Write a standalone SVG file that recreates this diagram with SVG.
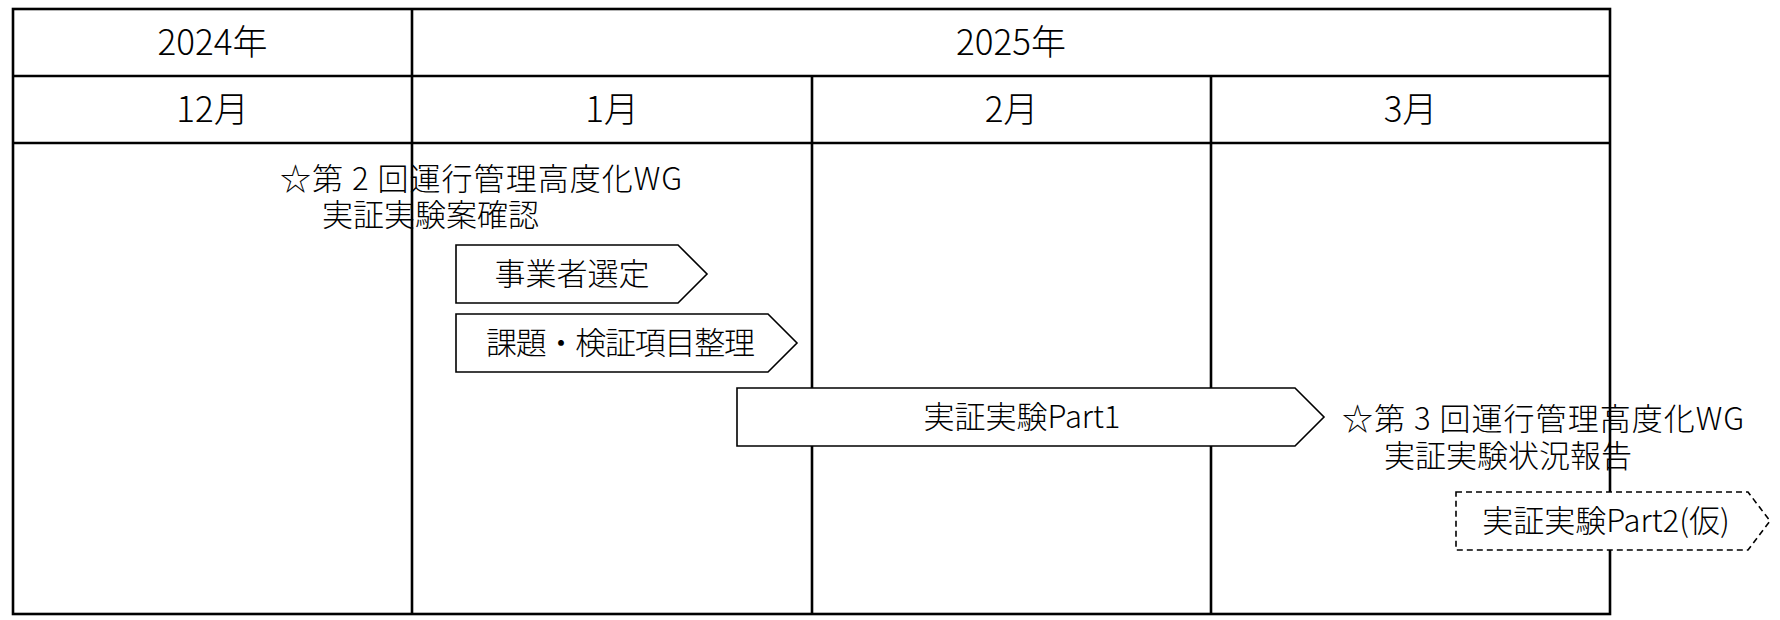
<svg xmlns="http://www.w3.org/2000/svg" width="1780" height="620" viewBox="0 0 1780 620">
<style>
.t{font-family:"Noto Sans CJK JP","Noto Sans",sans-serif;fill:#000;font-weight:300}
.h{font-size:35px;text-anchor:middle}
.b{font-size:31px}
.c{text-anchor:middle}
.grid{stroke:#000;stroke-width:2.6;fill:none}
.box{fill:#fff;stroke:#000;stroke-width:1.6}
.dash{fill:#fff;stroke:#000;stroke-width:1.6;stroke-dasharray:6 4}
</style>
<rect width="1780" height="620" fill="#fff"/>
<g id="table">
<rect class="grid" x="13" y="9" width="1597" height="605"/>
<line class="grid" x1="13" y1="76" x2="1610" y2="76"/>
<line class="grid" x1="13" y1="143" x2="1610" y2="143"/>
<line class="grid" x1="412" y1="9" x2="412" y2="614"/>
<line class="grid" x1="812" y1="76" x2="812" y2="614"/>
<line class="grid" x1="1211" y1="76" x2="1211" y2="614"/>
<text class="t h" x="212.5" y="55">2024年</text>
<text class="t h" x="1011" y="55">2025年</text>
<text class="t h" x="212.5" y="122">12月</text>
<text class="t h" x="612" y="122">1月</text>
<text class="t h" x="1011.5" y="122">2月</text>
<text class="t h" x="1410.5" y="122">3月</text>
</g>
<g id="wg2">
<text class="t b" x="280" y="190" textLength="402" lengthAdjust="spacing">☆第 2 回運行管理高度化WG</text>
<text class="t b" x="322" y="226">実証実験案確認</text>
</g>
<g id="jigyosha">
<polygon class="box" points="456,245 678,245 707,274 678,303 456,303"/>
<text class="t b c" x="572" y="285">事業者選定</text>
</g>
<g id="kadai">
<polygon class="box" points="456,314 768,314 797,343 768,372 456,372"/>
<text class="t b" x="486" y="354" textLength="269" lengthAdjust="spacing">課題・検証項目整理</text>
</g>
<g id="part1">
<polygon class="box" points="737,388 1295,388 1324,417 1295,446 737,446"/>
<text class="t b c" x="1022" y="428">実証実験Part1</text>
</g>
<g id="wg3">
<text class="t b" x="1342" y="430" textLength="402" lengthAdjust="spacing">☆第 3 回運行管理高度化WG</text>
<text class="t b" x="1384" y="467">実証実験状況報告</text>
</g>
<g id="part2">
<polygon class="dash" points="1456,492 1748,492 1770,521 1748,550 1456,550"/>
<text class="t b c" x="1606" y="532">実証実験Part2(仮)</text>
</g>
<g id="connectors"></g>
</svg>
